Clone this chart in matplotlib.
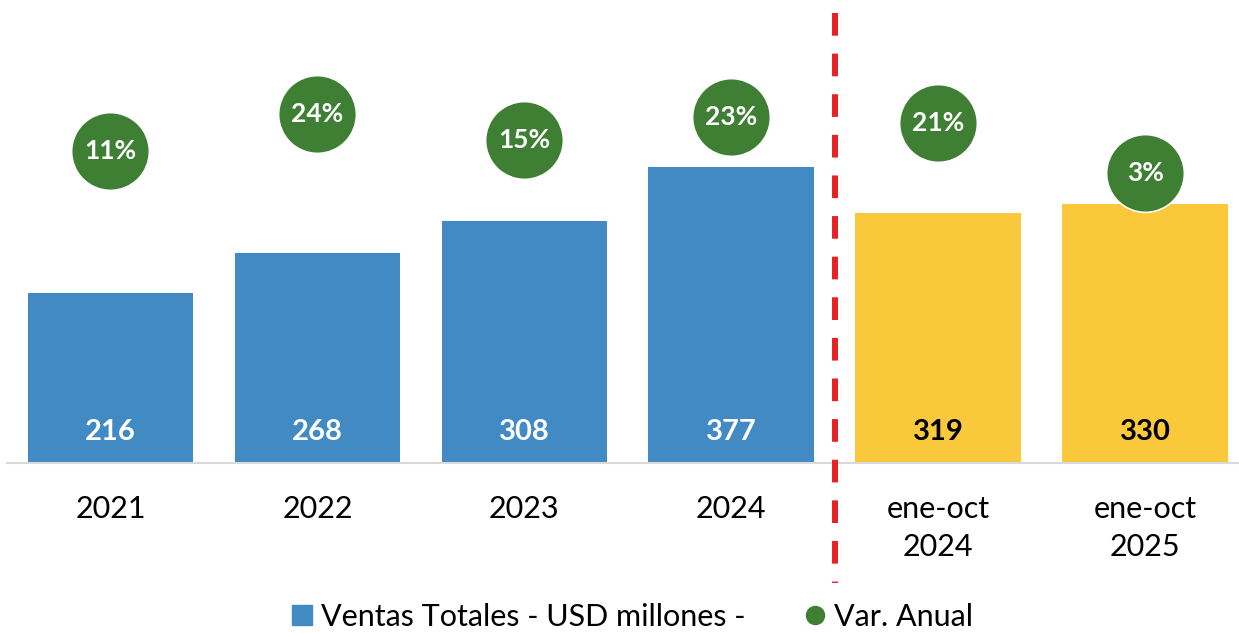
import matplotlib.pyplot as plt
from matplotlib.lines import Line2D

plt.rcParams['font.family'] = ['Lato', 'DejaVu Sans']

categories = ['2021', '2022', '2023', '2024', 'ene-oct\n2024', 'ene-oct\n2025']
ventas = [216, 268, 308, 377, 319, 330]
var_anual = [11, 24, 15, 23, 21, 3]

blue = '#418AC4'
yellow = '#F9C93B'
green = '#3F7F34'
red = '#E82127'
bar_colors = [blue, blue, blue, blue, yellow, yellow]
value_colors = ['white', 'white', 'white', 'white', 'black', 'black']

fig = plt.figure(figsize=(12.39, 6.33), dpi=100)
ax = fig.add_axes([7 / 1239, 170 / 633, 1241.5 / 1239, 453 / 633])
x = list(range(len(categories)))

ax.bar(x, ventas, width=0.8, color=bar_colors, zorder=2)
ax.set_xlim(-0.5, 5.5)
ax.set_ylim(0, 577)
for i, v in enumerate(ventas):
    ax.annotate(str(v), xy=(i, 0), xytext=(0, 22), textcoords='offset points',
                ha='center', va='center', fontsize=21, fontweight='bold',
                color=value_colors[i], zorder=3)

ax.set_xticks(x)
ax.set_xticklabels(categories, fontsize=22, linespacing=1.45)
ax.tick_params(axis='x', length=0, pad=23)
ax.set_yticks([])
for s in ['top', 'left', 'right']:
    ax.spines[s].set_visible(False)
ax.spines['bottom'].set_color('#D9D9D9')
ax.spines['bottom'].set_linewidth(1.5)

# línea de corte entre años completos y ene-oct
ax.plot([3.5, 3.5], [0.9934, -0.265], color=red, lw=4.3, dashes=(3.8, 3),
        transform=ax.get_xaxis_transform(), clip_on=False, zorder=4)

ax2 = ax.twinx()
ax2.set_ylim(-100.5, 61.25)
ax2.plot(x, var_anual, linestyle='none', marker='o', markersize=56,
         markerfacecolor=green, markeredgecolor='white', markeredgewidth=1.2,
         zorder=3)
for i, p in enumerate(var_anual):
    ax2.text(i, p, f'{p}%', ha='center', va='center', fontsize=19,
             fontweight='bold', color='white', zorder=4)
ax2.set_yticks([])
for s in ax2.spines.values():
    s.set_visible(False)

handles = [
    Line2D([], [], linestyle='none', marker='s', markersize=14, color=blue),
    Line2D([], [], linestyle='none', marker='o', markersize=13, color=green),
]
fig.legend(handles, ['Ventas Totales - USD millones -', 'Var. Anual'],
           loc='center', bbox_to_anchor=(633 / 1239, 16 / 633), ncol=2,
           frameon=False, fontsize=22, handlelength=0.6, handletextpad=0.3,
           columnspacing=2.0, borderaxespad=0)

fig.savefig('out.png', dpi=100)
